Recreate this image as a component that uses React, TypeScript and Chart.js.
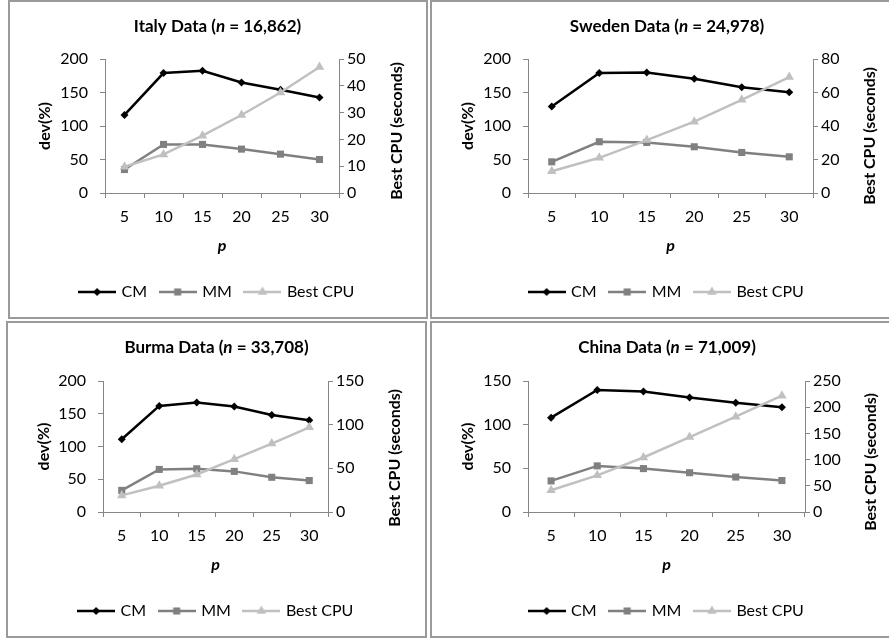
import React, { useEffect, useRef } from 'react';
import { Chart, registerables } from 'chart.js';

Chart.register(...registerables);

// ---------- data ----------
const categories = ['5', '10', '15', '20', '25', '30'];
const seriesNames = ['CM', 'MM', 'Best CPU'];

const italyCM = [116.5, 179, 182.5, 165, 154, 142.5];
const italyMM = [35, 72.5, 72.5, 65.5, 58, 50];
const italyCPU = [9.8, 14.4, 21.4, 29.1, 37.5, 47];

const swedenCM = [129, 179, 180, 170.5, 158, 150.5];
const swedenMM = [46.5, 76.5, 75.5, 69, 60.5, 54];
const swedenCPU = [13, 21, 31.6, 42.6, 55.6, 69.2];

const burmaCM = [111, 162, 167, 161, 148, 140];
const burmaMM = [33, 65, 66, 62, 53, 48];
const burmaCPU = [19, 30, 43, 60.5, 78.4, 97];

const chinaCM = [108, 139.7, 138, 131, 125, 120];
const chinaMM = [35.6, 52.8, 49.7, 45, 40, 36];
const chinaCPU = [41.5, 70, 104, 143, 182, 222];

const leftAxisTitle = 'dev(%)';
const rightAxisTitle = 'Best CPU (seconds)';
const xAxisTitle = 'p';

// ---------- style ----------
const FONT = 'Lato';
const AXIS = '#868686';
const COLORS = ['#000000', '#808080', '#c0c0c0'];
const STYLES = ['rectRot', 'rect', 'triangle'];
const RADII = [4, 5, 5.5];

const panels = [
  { name: 'Italy', n: '16,862', cm: italyCM, mm: italyMM, cpu: italyCPU, leftMax: 200, leftStep: 50, rightMax: 50, rightStep: 10,
    x: 8, y: 1, w: 419, h: 317, area: { left: 97, right: 331, top: 58, bottom: 192 }, rtX: 389, rtY: 130 },
  { name: 'Sweden', n: '24,978', cm: swedenCM, mm: swedenMM, cpu: swedenCPU, leftMax: 200, leftStep: 50, rightMax: 80, rightStep: 20,
    x: 431, y: 1, w: 472, h: 317, area: { left: 97, right: 382, top: 58, bottom: 192 }, rtX: 439, rtY: 135 },
  { name: 'Burma', n: '33,708', cm: burmaCM, mm: burmaMM, cpu: burmaCPU, leftMax: 200, leftStep: 50, rightMax: 150, rightStep: 50,
    x: 7, y: 322, w: 419, h: 315, area: { left: 96, right: 321, top: 59, bottom: 190 }, rtX: 388, rtY: 136 },
  { name: 'China', n: '71,009', cm: chinaCM, mm: chinaMM, cpu: chinaCPU, leftMax: 150, leftStep: 50, rightMax: 250, rightStep: 50,
    x: 431, y: 322, w: 472, h: 315, area: { left: 97, right: 374, top: 59, bottom: 190 }, rtX: 440, rtY: 140 },
];

const borders = [
  { left: 8, top: 0, width: 420, height: 319 },
  { left: 430, top: 0, width: 480, height: 319 },
  { left: 6, top: 321, width: 421, height: 317 },
  { left: 430, top: 321, width: 480, height: 317 },
];

function legendImage(i: number): HTMLCanvasElement {
  const c = document.createElement('canvas');
  c.width = 38;
  c.height = 14;
  const g = c.getContext('2d')!;
  const color = COLORS[i];
  g.strokeStyle = color;
  g.fillStyle = color;
  g.lineWidth = 2.5;
  g.beginPath();
  g.moveTo(0, 7);
  g.lineTo(38, 7);
  g.stroke();
  const cx = 19, cy = 7;
  g.beginPath();
  if (i === 0) {
    const r = RADII[0];
    g.moveTo(cx, cy - r); g.lineTo(cx + r, cy); g.lineTo(cx, cy + r); g.lineTo(cx - r, cy); g.closePath();
  } else if (i === 1) {
    const s = RADII[1] * Math.SQRT1_2;
    g.rect(cx - s, cy - s, 2 * s, 2 * s);
  } else {
    const r = RADII[2];
    g.moveTo(cx, cy - r);
    g.lineTo(cx + r * Math.cos(Math.PI / 6), cy + r * 0.5);
    g.lineTo(cx - r * Math.cos(Math.PI / 6), cy + r * 0.5);
    g.closePath();
  }
  g.fill();
  return c;
}

const textPlugin = {
  id: 'panelText',
  afterDraw(chart: any, _args: any, opts: any) {
    const ctx = chart.ctx as CanvasRenderingContext2D;
    ctx.save();
    ctx.fillStyle = '#000';
    ctx.textBaseline = 'middle';
    ctx.textAlign = 'left';
    const size = 17;
    const segs = [
      { t: opts.name + ' Data (', f: `bold ${size}px ${FONT}`, w: 0 },
      { t: 'n', f: `italic bold ${size}px ${FONT}`, w: 0 },
      { t: ' = ' + opts.n + ')', f: `bold ${size}px ${FONT}`, w: 0 },
    ];
    let total = 0;
    segs.forEach((s) => { ctx.font = s.f; s.w = ctx.measureText(s.t).width; total += s.w; });
    let x = chart.width / 2 - total / 2;
    segs.forEach((s) => { ctx.font = s.f; ctx.fillText(s.t, x, opts.titleY); x += s.w; });
    ctx.translate(opts.rtX, opts.rtY);
    ctx.rotate(-Math.PI / 2);
    ctx.font = `bold 16px ${FONT}`;
    ctx.textAlign = 'center';
    ctx.fillText(rightAxisTitle, 0, 0);
    ctx.restore();
  },
};

function Panel({ p }: { p: any }) {
  const ref = useRef<HTMLCanvasElement>(null);
  useEffect(() => {
    const xH = 77;
    const legendPad = 14;
    const legendH = 16 + legendPad + 10;
    const padB = p.h - p.area.bottom - xH - legendH;
    const tickFont = { family: FONT, size: 16 };
    const values = [p.cm, p.mm, p.cpu];
    const images = [0, 1, 2].map((i) => legendImage(i));
    const chart = new Chart(ref.current!, {
      type: 'line',
      data: {
        labels: categories,
        datasets: values.map((v, i) => ({
          label: seriesNames[i],
          data: v,
          yAxisID: i === 2 ? 'y1' : 'y',
          borderColor: COLORS[i],
          backgroundColor: COLORS[i],
          borderWidth: 2.5,
          pointStyle: STYLES[i] as any,
          pointRadius: RADII[i],
          pointBorderWidth: 0,
          pointHoverRadius: RADII[i],
          tension: 0,
          order: 3 - i,
        })),
      },
      options: {
        animation: false,
        responsive: false,
        events: [],
        layout: { padding: { top: p.area.top, bottom: padB, left: 0, right: 0 } },
        scales: {
          x: {
            type: 'category',
            offset: true,
            grid: { display: true, drawOnChartArea: false, drawTicks: true, tickLength: 5, color: AXIS, offset: true, lineWidth: 1 },
            border: { display: true, color: AXIS, width: 1 },
            ticks: { color: '#000', font: tickFont, padding: 9, maxRotation: 0, autoSkip: false },
            title: { display: true, text: xAxisTitle, color: '#000', font: { family: FONT, size: 16, weight: 'bold', style: 'italic' }, padding: { top: 0, bottom: 15 } },
            afterFit: (s: any) => { s.height = xH; },
          },
          y: {
            position: 'left',
            min: 0,
            max: p.leftMax,
            grid: { display: true, drawOnChartArea: false, drawTicks: true, tickLength: 5, color: AXIS, lineWidth: 1 },
            border: { display: true, color: AXIS, width: 1 },
            ticks: { stepSize: p.leftStep, color: '#000', font: tickFont, padding: 12 },
            title: { display: true, text: leftAxisTitle, color: '#000', font: { family: FONT, size: 16, weight: 'bold' }, padding: { top: 27, bottom: 0 } },
            afterFit: (s: any) => { s.width = p.area.left; },
          },
          y1: {
            position: 'right',
            min: 0,
            max: p.rightMax,
            grid: { display: true, drawOnChartArea: false, drawTicks: true, tickLength: 5, color: AXIS, lineWidth: 1 },
            border: { display: true, color: AXIS, width: 1 },
            ticks: { stepSize: p.rightStep, color: '#000', font: tickFont, padding: 3 },
            afterFit: (s: any) => { s.width = p.w - p.area.right; },
          },
        },
        plugins: {
          title: { display: false },
          tooltip: { enabled: false },
          legend: {
            display: true,
            position: 'bottom',
            labels: {
              usePointStyle: true,
              pointStyleWidth: 33,
              padding: legendPad,
              color: '#000',
              font: { family: FONT, size: 16 },
              generateLabels: (ch: any) => {
                return ch.data.datasets.map((ds: any, i: number) => ({
                  text: ds.label,
                  fillStyle: COLORS[i],
                  strokeStyle: COLORS[i],
                  fontColor: '#000',
                  lineWidth: 0,
                  pointStyle: images[i],
                  hidden: false,
                  datasetIndex: i,
                }));
              },
            },
          },
          panelText: { name: p.name, n: p.n, titleY: 25.5, rtX: p.rtX, rtY: p.rtY },
        } as any,
      },
      plugins: [textPlugin],
    } as any);
    return () => chart.destroy();
  }, []);
  return (
    <canvas
      ref={ref}
      width={p.w}
      height={p.h}
      style={{ position: 'absolute', left: p.x, top: p.y, width: p.w, height: p.h }}
    />
  );
}

export default function App() {
  return (
    <div style={{ position: 'absolute', left: 0, top: 0, width: 889, height: 639, overflow: 'hidden', background: '#fff' }}>
      {panels.map((p) => (
        <Panel key={p.name} p={p} />
      ))}
      {borders.map((b, i) => (
        <div
          key={i}
          style={{
            position: 'absolute',
            left: b.left,
            top: b.top,
            width: b.width,
            height: b.height,
            border: '2px solid #9a9a9a',
            boxSizing: 'border-box',
            pointerEvents: 'none',
          }}
        />
      ))}
    </div>
  );
}
